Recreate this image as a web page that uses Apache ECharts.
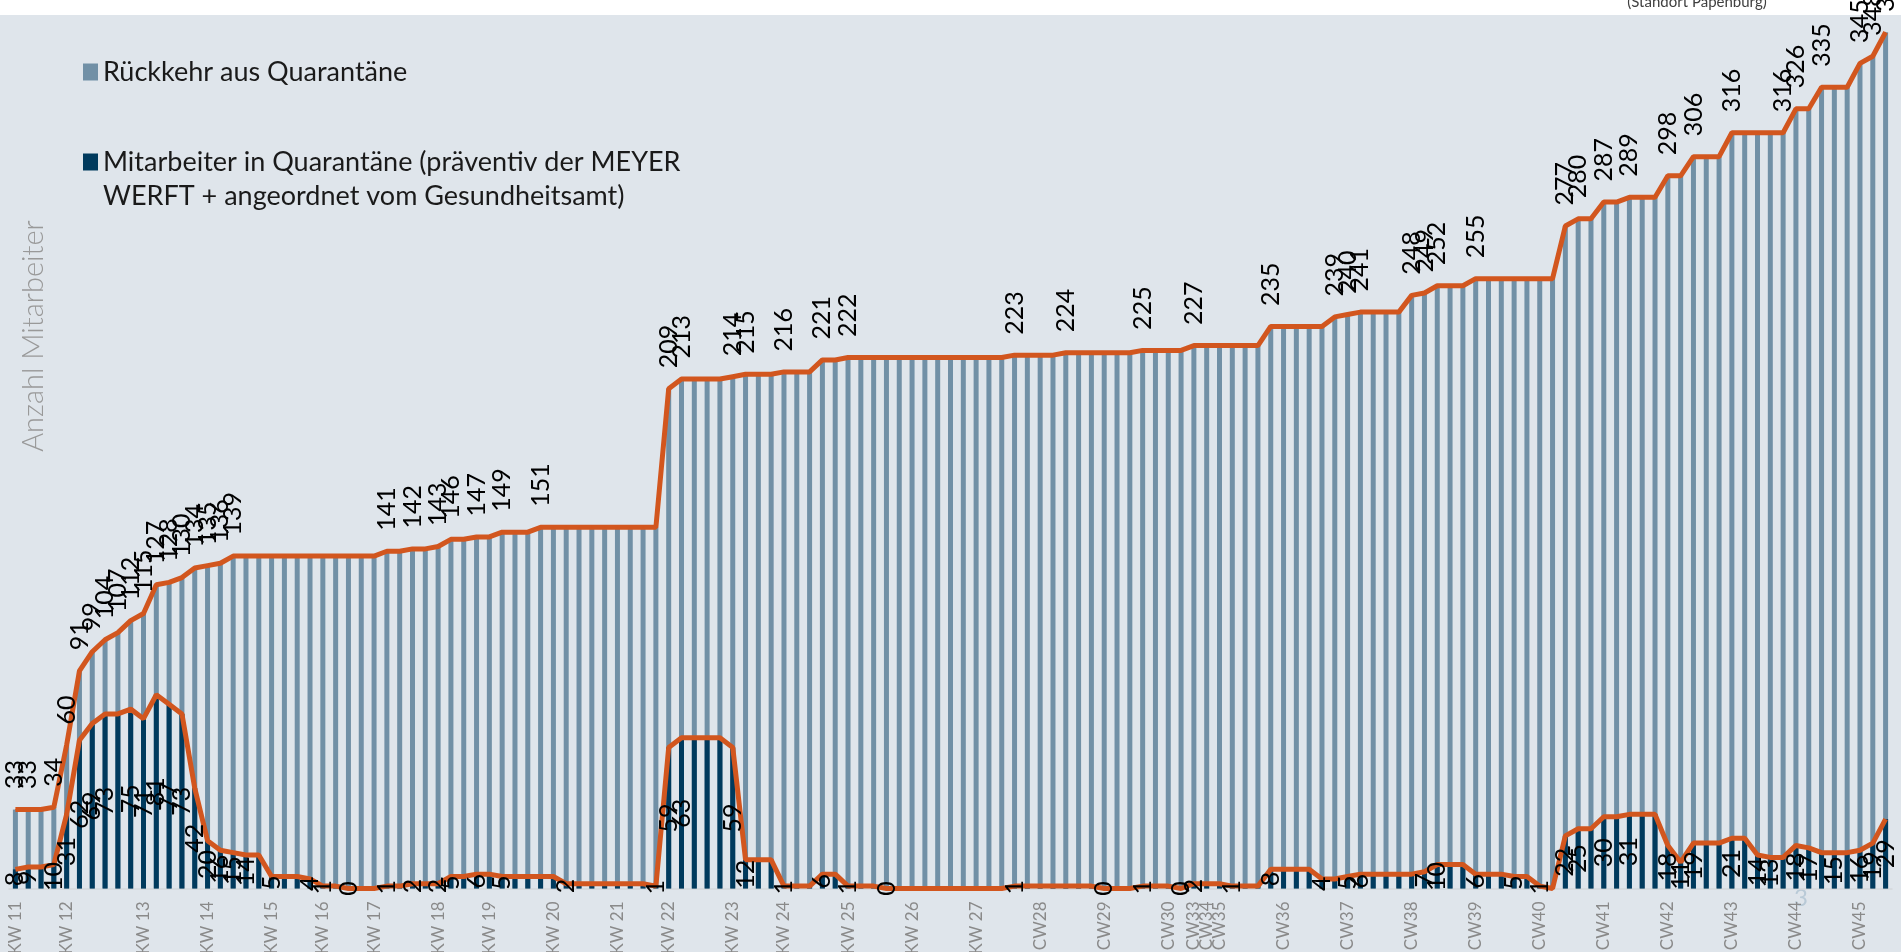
<!DOCTYPE html>
<html>
<head>
<meta charset="utf-8">
<title>Mitarbeiter in Quarantäne</title>
<script src="https://cdn.jsdelivr.net/npm/echarts@6/dist/echarts.min.js"></script>
<style>
  html, body { margin: 0; padding: 0; background: #ffffff; }
  #chart { width: 1901px; height: 952px; }
</style>
</head>
<body>
<div id="chart"></div>
<script>
// Kalenderwochen und Anzahl Tage pro Woche
var weekNames = ['KW 11', 'KW 12', 'KW 13', 'KW 14', 'KW 15', 'KW 16', 'KW 17', 'KW 18', 'KW 19', 'KW 20',
  'KW 21', 'KW 22', 'KW 23', 'KW 24', 'KW 25', 'KW 26', 'KW 27', 'CW28', 'CW29', 'CW30',
  'CW33', 'CW34', 'CW35', 'CW36', 'CW37', 'CW38', 'CW39', 'CW40', 'CW41', 'CW42',
  'CW43', 'CW44', 'CW45'];
var weekDays = [4, 6, 5, 5, 4, 4, 5, 4, 5, 5,
  4, 5, 4, 5, 5, 5, 5, 5, 5, 2,
  1, 1, 5, 5, 5, 5, 5, 5, 5, 5,
  5, 5, 3];

// Rückkehr aus Quarantäne (kumuliert), ein Wert pro Tag
var rueckkehr = [
  33, 33, 33, 34,
  60, 91, 99, 104, 107, 112,
  115, 127, 128, 130, 134,
  135, 136, 139, 139, 139,
  139, 139, 139, 139,
  139, 139, 139, 139,
  139, 141, 141, 142, 142,
  143, 146, 146, 147,
  147, 149, 149, 149, 151,
  151, 151, 151, 151, 151,
  151, 151, 151, 151,
  209, 213, 213, 213, 213,
  214, 215, 215, 215,
  216, 216, 216, 221, 221,
  222, 222, 222, 222, 222,
  222, 222, 222, 222, 222,
  222, 222, 222, 223, 223,
  223, 223, 224, 224, 224,
  224, 224, 224, 225, 225,
  225, 225,
  227,
  227,
  227, 227, 227, 227, 235,
  235, 235, 235, 235, 239,
  240, 241, 241, 241, 241,
  248, 249, 252, 252, 252,
  255, 255, 255, 255, 255,
  255, 255, 277, 280, 280,
  287, 287, 289, 289, 289,
  298, 298, 306, 306, 306,
  316, 316, 316, 316, 316,
  326, 326, 335, 335, 335,
  345, 348, 358
];

// Mitarbeiter in Quarantäne, ein Wert pro Tag
var quarantaene = [
  8, 9, 9, 10,
  31, 62, 69, 73, 73, 75,
  71, 81, 77, 73, 42,
  20, 16, 15, 14, 14,
  5, 5, 5, 4,
  1, 1, 0, 0,
  0, 1, 1, 2, 2,
  2, 5, 5, 6,
  6, 5, 5, 5, 5,
  5, 2, 2, 2, 2,
  2, 2, 2, 1,
  59, 63, 63, 63, 63,
  59, 12, 12, 12,
  1, 1, 1, 6, 6,
  1, 1, 1, 0, 0,
  0, 0, 0, 0, 0,
  0, 0, 0, 1, 1,
  1, 1, 1, 1, 1,
  0, 0, 0, 1, 1,
  1, 0,
  2,
  2,
  2, 1, 1, 1, 8,
  8, 8, 8, 4, 4,
  5, 6, 6, 6, 6,
  6, 7, 10, 10, 10,
  6, 6, 6, 5, 5,
  1, 0, 22, 25, 25,
  30, 30, 31, 31, 31,
  18, 11, 19, 19, 19,
  21, 21, 14, 13, 13,
  18, 17, 15, 15, 15,
  16, 19, 29
];

// Tage, an denen ein Wert beschriftet ist
var rueckkehrLabelIdx = [0, 1, 3, 4, 5, 6, 7, 8, 9, 10, 11, 12, 13, 14, 15, 16, 17, 29, 31, 33, 34, 36, 38, 41,
  51, 52, 56, 57, 60, 63, 65, 78, 82, 88, 92, 98, 103, 104, 105, 109, 110, 111, 114, 121, 122, 124,
  126, 129, 131, 134, 138, 139, 141, 144, 145, 146];
var quarantaeneLabelIdx = [0, 1, 3, 4, 5, 6, 7, 9, 10, 11, 12, 13, 14, 15, 16, 17, 18, 20, 23, 24, 26, 29, 31,
  33, 34, 36, 38, 43, 50, 51, 52, 56, 57, 60, 63, 65, 68, 78, 85, 88, 91, 92, 95, 98, 102, 104, 105,
  110, 111, 114, 117, 119, 121, 122, 124, 126, 129, 130, 131, 134, 136, 137, 139, 140, 142, 144, 145, 146];

var nameRueckkehr = 'Rückkehr aus Quarantäne';
var nameQuarantaene = 'Mitarbeiter in Quarantäne (präventiv der MEYER\nWERFT + angeordnet vom Gesundheitsamt)';

var FONT = "Lato, 'Open Sans', sans-serif";
var lightBlue = '#7190a6';
var darkBlue = '#003a5d';
var orange = '#d2561e';

// eine Kategorie pro Tag, Beschriftung nur am ersten Tag der Woche
var days = [];
weekNames.forEach(function (w, wi) {
  for (var d = 0; d < weekDays[wi]; d++) {
    days.push(w + '|' + d);
  }
});

function withLabels(values, idx) {
  return values.map(function (v, i) {
    return { value: v, label: { show: idx.indexOf(i) >= 0 } };
  });
}

var chart = echarts.init(document.getElementById('chart'));

var legendText = { fontFamily: FONT, fontSize: 27, color: '#1a1a1a', lineHeight: 34 };

var option = {
  animation: false,
  backgroundColor: '#ffffff',
  textStyle: { fontFamily: FONT },
  graphic: [
    {
      type: 'rect', left: 0, top: 15, z: -10, silent: true,
      shape: { width: 1901, height: 937 },
      style: { fill: '#dfe5eb' }
    },
    {
      type: 'text', x: 1697, y: 10, silent: true,
      style: { text: '(Standort Papenburg)', fontFamily: FONT, fontSize: 15, fill: '#404040', align: 'center', verticalAlign: 'bottom' }
    },
    {
      type: 'text', x: 34, y: 336, rotation: Math.PI / 2, silent: true,
      style: { text: 'Anzahl Mitarbeiter', fontFamily: FONT, fontSize: 29, fontWeight: 300, fill: '#999999', align: 'center', verticalAlign: 'middle' }
    },
    {
      type: 'text', x: 1801, y: 898, silent: true,
      style: { text: '3', fontFamily: FONT, fontSize: 24, fill: '#b9cad7', align: 'center', verticalAlign: 'middle' }
    }
  ],
  legend: [
    {
      data: [nameRueckkehr], left: 78, top: 50, icon: 'rect', itemWidth: 15, itemHeight: 17,
      selectedMode: false,
      textStyle: legendText
    },
    {
      // leere erste Zeile, damit das Symbol neben der ersten Textzeile steht
      data: [nameQuarantaene], left: 78, top: 106, icon: 'rect', itemWidth: 15, itemHeight: 17,
      selectedMode: false,
      formatter: function (n) { return ' \n' + n; },
      textStyle: legendText
    }
  ],
  grid: { left: 9, right: 9, top: 27.5, bottom: 63.5, outerBoundsMode: 'none' },
  xAxis: {
    type: 'category',
    data: days,
    boundaryGap: true,
    axisTick: { show: false },
    axisLine: { lineStyle: { color: '#d4d8dc', width: 1.5 } },
    axisLabel: {
      interval: 0,
      rotate: 90,
      align: 'right',
      verticalAlign: 'middle',
      margin: 13,
      fontFamily: FONT,
      fontSize: 17,
      color: '#8a8a8a',
      formatter: function (v) {
        var p = v.split('|');
        return p[1] === '0' ? p[0] : '';
      }
    }
  },
  yAxis: { type: 'value', min: 0, max: 360, show: false },
  series: [
    {
      name: nameRueckkehr,
      type: 'bar',
      data: rueckkehr,
      barWidth: 5,
      barGap: '-100%',
      itemStyle: { color: lightBlue },
      z: 2
    },
    {
      name: nameQuarantaene,
      type: 'bar',
      data: quarantaene,
      barWidth: 5,
      barGap: '-100%',
      itemStyle: { color: darkBlue },
      z: 2
    },
    {
      name: 'Linie Rückkehr',
      type: 'line',
      data: withLabels(rueckkehr, rueckkehrLabelIdx),
      symbol: 'circle',
      symbolSize: 1,
      showSymbol: true,
      itemStyle: { color: orange },
      lineStyle: { color: orange, width: 5 },
      label: {
        show: false,
        position: 'top',
        distance: 20,
        rotate: 90,
        align: 'left',
        verticalAlign: 'middle',
        fontFamily: FONT,
        fontSize: 25,
        color: '#000000'
      },
      z: 3
    },
    {
      name: 'Linie Quarantäne',
      type: 'line',
      data: quarantaene,
      symbol: 'none',
      itemStyle: { color: orange },
      lineStyle: { color: orange, width: 5 },
      z: 3
    },
    {
      name: 'Werte Quarantäne',
      type: 'bar',
      data: withLabels(quarantaene, quarantaeneLabelIdx),
      barWidth: 5,
      barGap: '-100%',
      itemStyle: { color: 'rgba(0,0,0,0)' },
      silent: true,
      label: {
        show: false,
        position: 'inside',
        rotate: 90,
        align: 'center',
        verticalAlign: 'middle',
        fontFamily: FONT,
        fontSize: 25,
        color: '#000000'
      },
      z: 5
    }
  ]
};

chart.setOption(option);
</script>
</body>
</html>
